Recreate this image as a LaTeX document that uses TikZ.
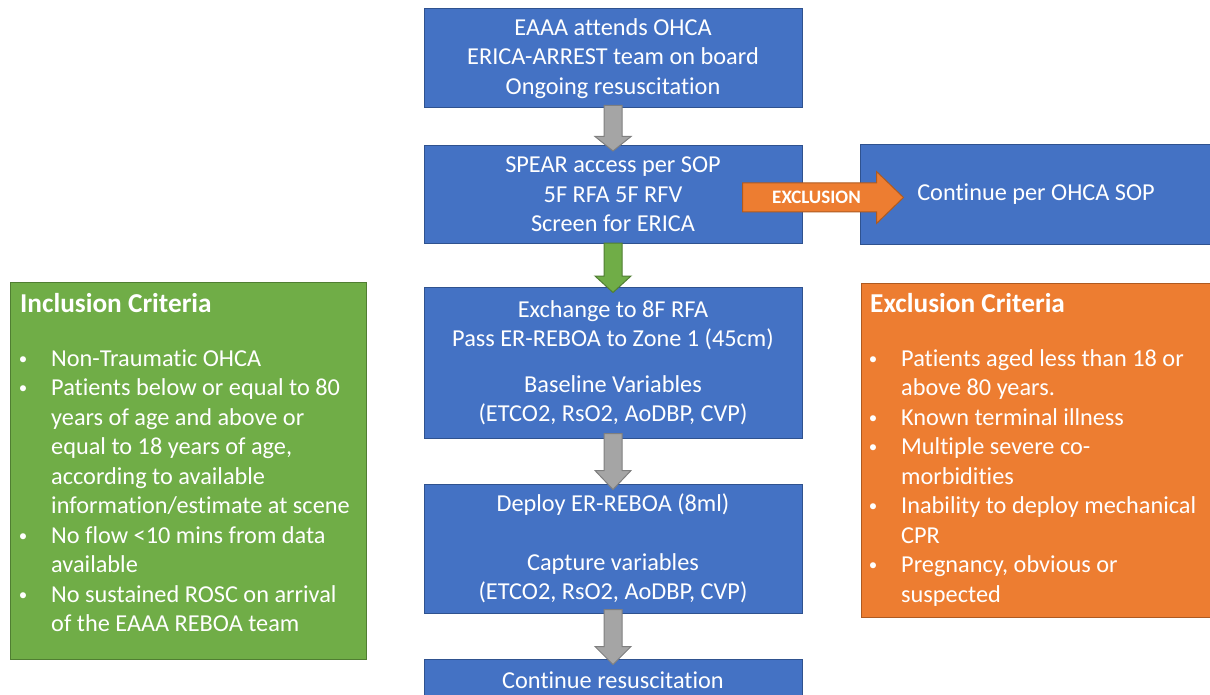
\documentclass[tikz,border=0pt]{standalone}
\usepackage{fontspec}
\setmainfont{Carlito}[Ligatures=NoCommon]
\usetikzlibrary{calc}
\definecolor{boxblue}{HTML}{4472C4}
\definecolor{blueline}{HTML}{2F528F}
\definecolor{boxgreen}{HTML}{70AD47}
\definecolor{greenline}{HTML}{507E32}
\definecolor{boxorange}{HTML}{ED7D31}
\definecolor{orangeline}{HTML}{AE5A21}
\definecolor{arrowgray}{HTML}{A5A5A5}
\definecolor{grayline}{HTML}{7F7F7F}
\newcommand\myvarrow[5]{%
  \draw[#1] ($(#2.south)+(-9,#3)$) -- ($(#2.south)+(9,#3)$) -- ($(#2.south)+(9,#4)$)
    -- ($(#2.south)+(18,#4)$) -- ($(#5.north)+(0,6)$) -- ($(#2.south)+(-18,#4)$)
    -- ($(#2.south)+(-9,#4)$) -- cycle;}
\newcommand\mybul{\makebox[0pt][c]{\raisebox{2pt}{\fontsize{17}{17}\selectfont•}}}
\begin{document}
\begin{tikzpicture}[x=1pt,y=-1pt,
  txt/.style={text=white, font=\fontsize{24.3}{29.5}\selectfont},
  bluebox/.style={draw=blueline, fill=boxblue, line width=1pt, txt, align=center, inner sep=0pt, minimum width=378pt},
  greenbox/.style={draw=greenline, fill=boxgreen, line width=1pt, inner sep=0pt},
  orangebox/.style={draw=orangeline, fill=boxorange, line width=1pt, inner sep=0pt},
  garrow/.style={draw=grayline, fill=arrowgray, line width=1pt},
  grarrow/.style={draw=greenline, fill=boxgreen, line width=1pt},
  oarrow/.style={draw=orangeline, fill=boxorange, line width=1pt},
  heading/.style={text=white, font=\fontsize{27.3}{32}\selectfont\bfseries, anchor=base west, inner sep=0pt},
  listtxt/.style={txt, anchor=base west, inner sep=0pt}
]
\useasboundingbox (0,0) rectangle (1210,695);
\clip (0,0) rectangle (1210,695);

% main flow boxes
\node[bluebox, minimum height=99pt] (b1) at (613,58.5)
  {EAAA attends OHCA\\ERICA-ARREST team on board\\Ongoing resuscitation};
\node[bluebox, minimum height=98pt] (b2) at (613,194.5)
  {SPEAR access per SOP\\5F RFA 5F RFV\\Screen for ERICA};
\node[bluebox, minimum height=151pt] (b3) at (613,362.5)
  {Exchange to 8F RFA\\Pass ER-REBOA to Zone 1 (45cm)\\[16pt]Baseline Variables\\(ETCO2, RsO2, AoDBP, CVP)};
\node[bluebox, minimum height=129pt] (b4) at (613,548.5)
  {Deploy ER-REBOA (8ml)\\[29.5pt]Capture variables\\(ETCO2, RsO2, AoDBP, CVP)};
\node[bluebox, minimum height=42pt] (b5) at (613,680)
  {Continue resuscitation};

% right box
\node[bluebox, minimum width=352pt, minimum height=99pt] (r) at (1036,194.5)
  {Continue per OHCA SOP};

% vertical block arrows
\myvarrow{garrow}{b1}{-3}{28}{b2}
\myvarrow{grarrow}{b2}{-1}{32}{b3}
\myvarrow{garrow}{b3}{-5}{32}{b4}
\myvarrow{garrow}{b4}{-4}{33}{b5}

% exclusion arrow
\coordinate (ea) at ($(b2.east)+(-60,3)$);
\coordinate (eb) at ($(r.west)+(44,3)$);
\draw[oarrow] ($(ea)+(0,-14.5)$) -- ($(eb)+(-27,-14.5)$) -- ($(eb)+(-27,-26)$) -- (eb)
  -- ($(eb)+(-27,26)$) -- ($(eb)+(-27,14.5)$) -- ($(ea)+(0,14.5)$) -- cycle;
\node[text=white, font=\fontsize{19}{22}\selectfont\bfseries, inner sep=0pt] (exl) at ($(ea)+(74,0)$) {EXCLUSION};

% inclusion criteria
\node[greenbox, anchor=north west, minimum width=356pt, minimum height=377pt] (inc) at (10,282) {};
\node[heading] (inch) at (20,312) {Inclusion Criteria};
\node[listtxt] (incl) at (23,366) {%
\begin{tabular}[t]{@{}p{28pt}@{}l@{}}
\mybul& Non-Traumatic OHCA\\
\mybul& Patients below or equal to 80\\
 & years of age and above or\\
 & equal to 18 years of age,\\
 & according to available\\
 & information/estimate at scene\\
\mybul& No flow <10 mins from data\\
 & available\\
\mybul& No sustained ROSC on arrival\\
 & of the EAAA REBOA team
\end{tabular}};

% exclusion criteria
\node[orangebox, anchor=north west, minimum width=360pt, minimum height=334pt] (exc) at (861,283) {};
\node[heading] (exch) at (870,312) {Exclusion Criteria};
\node[listtxt] (excl) at (873,366) {%
\begin{tabular}[t]{@{}p{28pt}@{}l@{}}
\mybul& Patients aged less than 18 or\\
 & above 80 years.\\
\mybul& Known terminal illness\\
\mybul& Multiple severe co-\\
 & morbidities\\
\mybul& Inability to deploy mechanical\\
 & CPR\\
\mybul& Pregnancy, obvious or\\
 & suspected
\end{tabular}};
\end{tikzpicture}
\end{document}
